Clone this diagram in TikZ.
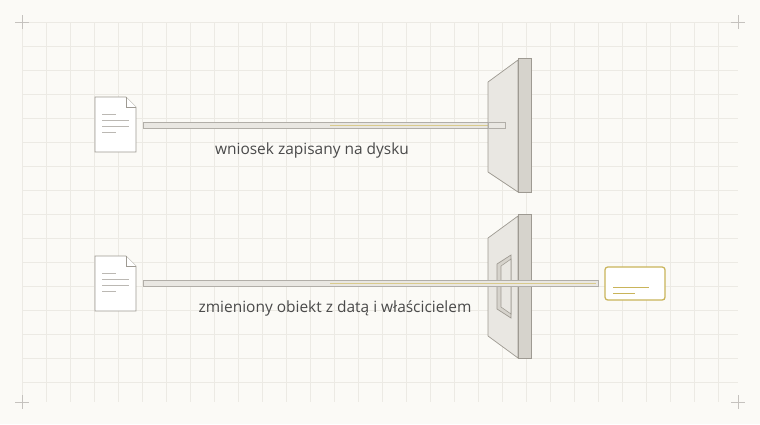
\documentclass[tikz,border=0pt]{standalone}
\usepackage{fontspec}
\setmainfont{Open Sans}
\usetikzlibrary{positioning}
\definecolor{paper}{HTML}{FBFAF6}
\definecolor{gridc}{HTML}{ECEAE4}
\definecolor{wallf}{HTML}{E9E7E2}
\definecolor{walls}{HTML}{D6D3CC}
\definecolor{edge}{HTML}{9E9A92}
\definecolor{gold}{HTML}{C9B45A}
\definecolor{txt}{HTML}{4A4A4A}
\begin{document}
\begin{tikzpicture}[
        x=0.025cm, y=-0.025cm,
        wallface/.style={fill=wallf, draw=edge, line width=0.5pt, line join=round},
        wallside/.style={fill=walls, draw=edge, line width=0.5pt},
        bar/.style={fill=wallf, draw=edge!80, line width=0.5pt},
        doc/.style={fill=white, draw=edge, line width=0.5pt},
        label/.style={font=\fontsize{11}{13}\selectfont, text=txt}
    ]
        % --- Background ---
        \fill[paper] (0,0) rectangle (760,424);
        \useasboundingbox (0,0) rectangle (760,424);
        \foreach \x in {22,46,...,738} \draw[gridc, line width=0.4pt] (\x,22) -- (\x,402);
        \foreach \y in {22,46,...,402} \draw[gridc, line width=0.4pt] (22,\y) -- (738,\y);
        \foreach \x/\y in {22/22, 738/22, 22/402, 738/402}
            \draw[edge!60, line width=0.4pt] (\x-7,\y) -- (\x+7,\y) (\x,\y-7) -- (\x,\y+7);

        % --- Documents ---
        \foreach \y [count=\i] in {97,256} {
            \draw[doc] (95,\y) -- (126,\y) -- (136,\y+10) -- (136,\y+55) -- (95,\y+55) -- cycle;
            \draw[doc] (126,\y) -- (126,\y+10) -- (136,\y+10);
            \draw[edge!70, line width=0.4pt] (102,\y+17) -- (116,\y+17) (102,\y+23) -- (129,\y+23)
                (102,\y+29) -- (129,\y+29) (102,\y+35) -- (116,\y+35);
        }

        % --- Top: request bar and solid wall ---
        \draw[bar] (143,122) rectangle (505,128);
        \draw[gold!70, line width=0.6pt] (330,125) -- (503,125);
        \draw[wallface] (488,82) -- (518,60) -- (518,192) -- (488,172) -- cycle;
        \draw[wallside] (518,58) rectangle (531,192);
        \draw[bar] (488,122) rectangle (505,128);
        \node[label] (savedlbl) at (312,150) {wniosek zapisany na dysku};

        % --- Bottom: wall with opening ---
        \draw[wallface] (488,238) -- (518,216) -- (518,358) -- (488,336) -- cycle;
        \draw[wallside] (518,214) rectangle (531,358);
        \draw[fill=walls, draw=edge, line width=0.5pt] (497,264) -- (511,255) -- (511,318) -- (497,309) -- cycle;
        \draw[fill=wallf, draw=edge, line width=0.4pt] (501,266) -- (511,259) -- (511,314) -- (501,307) -- cycle;
        \draw[bar] (143,280) rectangle (598,286);
        \draw[gold!70, line width=0.6pt] (330,283) -- (596,283);
        \node[label] (changedlbl) at (335,308) {zmieniony obiekt z datą i właścicielem};

        % --- Record card ---
        \node[draw=gold, line width=0.9pt, fill=white, rounded corners=2pt,
              minimum width=1.5cm, minimum height=0.825cm, inner sep=0pt] (record) at (635,283.5) {};
        \draw[gold, line width=0.6pt] (613,287) -- (649,287) (613,293) -- (635,293);
    \end{tikzpicture}
\end{document}
